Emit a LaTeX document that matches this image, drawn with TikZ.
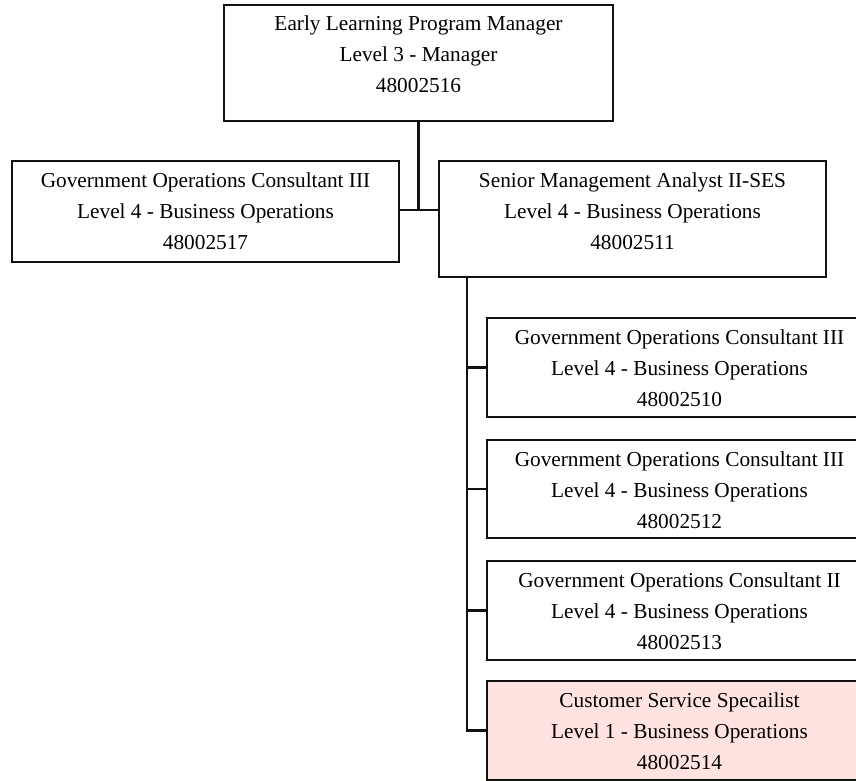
\documentclass[tikz,border=0pt]{standalone}
\usepackage{fontspec}
\setmainfont{Liberation Serif}
\definecolor{linecol}{RGB}{17,17,17}
\definecolor{vacant}{RGB}{255,227,224}
% box content: fixed-size parbox, text hung from the top edge
\newcommand{\posbox}[3]{\parbox[c][#2][t]{#1}{\centering\rule{0pt}{26pt}#3}}
\tikzset{
  posn/.style={draw=linecol, line width=2.6pt, inner sep=0pt, outer sep=0pt,
    anchor=north west, font=\fontsize{21.3pt}{31pt}\selectfont},
  vacantposn/.style={posn, fill=vacant},
  link/.style={draw=linecol, line width=2.2pt}
}
\begin{document}
\begin{tikzpicture}[x=1pt, y=-1pt]
\useasboundingbox (0,0) rectangle (856,781);
\clip (0,0) rectangle (856,781);

% junction points of the connectors
\coordinate (hub) at (419,210);
\coordinate (trunk) at (467,277);

% positions
\node[posn] (mgr) at (224,5) {\posbox{389pt}{116pt}{Early Learning Program Manager\\Level 3 - Manager\\48002516}};
\node[posn] (goc517) at (12,161) {\posbox{387pt}{101pt}{Government Operations Consultant III\\Level 4 - Business Operations\\48002517}};
\node[posn] (sma) at (439,161) {\posbox{387pt}{116pt}{Senior Management Analyst II-SES\\Level 4 - Business Operations\\48002511}};
\node[posn] (goc510) at (487,318) {\posbox{385pt}{99pt}{Government Operations Consultant III\\Level 4 - Business Operations\\48002510}};
\node[posn] (goc512) at (487,440) {\posbox{385pt}{98pt}{Government Operations Consultant III\\Level 4 - Business Operations\\48002512}};
\node[posn] (goc513) at (487,561) {\posbox{385pt}{99pt}{Government Operations Consultant II\\Level 4 - Business Operations\\48002513}};
\node[vacantposn] (css) at (487,681) {\posbox{385pt}{99pt}{Customer Service Specailist\\Level 1 - Business Operations\\48002514}};

% manager to its two direct reports
\draw[link] (mgr.south) -- (mgr.south |- hub);
\draw[link] (goc517.east |- hub) -- (sma.west |- hub);

% analyst to the four positions below
\draw[link] (trunk |- sma.south) -- (trunk |- css.west) -- (css.west);
\draw[link] (trunk |- goc510.west) -- (goc510.west);
\draw[link] (trunk |- goc512.west) -- (goc512.west);
\draw[link] (trunk |- goc513.west) -- (goc513.west);
\end{tikzpicture}
\end{document}
